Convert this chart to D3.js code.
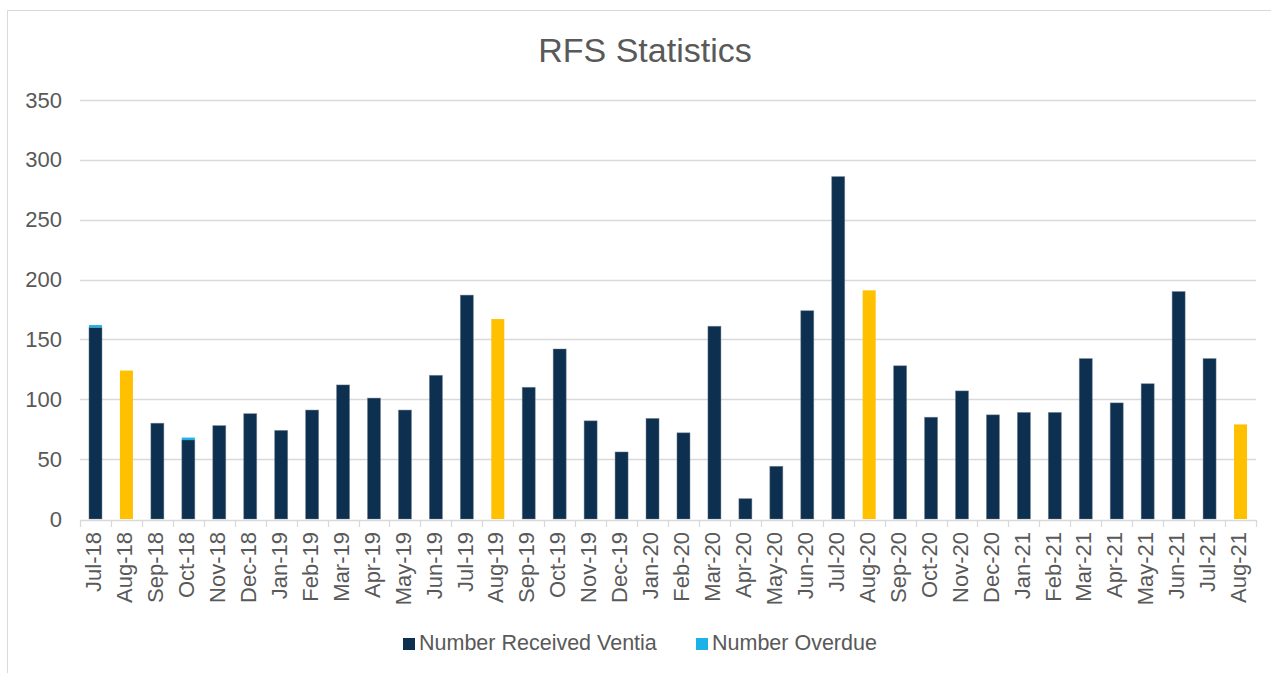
<!DOCTYPE html>
<html>
<head>
<meta charset="utf-8">
<script src="https://cdn.jsdelivr.net/npm/d3@7"></script>
<style>
  html, body { margin: 0; padding: 0; background: #ffffff; }
  svg { display: block; font-family: "Liberation Sans", Arial, sans-serif; }
</style>
</head>
<body>
<svg id="chart" width="1271" height="673"></svg>
<script>
// Monthly RFS counts, Jul-18 to Aug-21
const months = [
  "Jul-18","Aug-18","Sep-18","Oct-18","Nov-18","Dec-18",
  "Jan-19","Feb-19","Mar-19","Apr-19","May-19","Jun-19","Jul-19","Aug-19","Sep-19","Oct-19","Nov-19","Dec-19",
  "Jan-20","Feb-20","Mar-20","Apr-20","May-20","Jun-20","Jul-20","Aug-20","Sep-20","Oct-20","Nov-20","Dec-20",
  "Jan-21","Feb-21","Mar-21","Apr-21","May-21","Jun-21","Jul-21","Aug-21"
];
const receivedVentia = [
  160,124,80,66,78,88,
  74,91,112,101,91,120,187,167,110,142,82,56,
  84,72,161,17,44,174,286,191,128,85,107,87,
  89,89,134,97,113,190,134,79
];
const overdue = [
  2,0,0,2,0,0,
  0,0,0,0,0,0,0,0,0,0,0,0,
  0,0,0,0,0,0,0,0,0,0,0,0,
  0,0,0,0,0,0,0,0
];
// Months whose received bar is shown in the highlight colour
const highlighted = ["Aug-18","Aug-19","Aug-20","Aug-21"];
const yTicks = [0,50,100,150,200,250,300,350];
const seriesNames = ["Number Received Ventia","Number Overdue"];

const colors = {
  received: "#0e3050",
  highlight: "#ffc000",
  overdue: "#1bb1e9",
  text: "#595959",
  grid: "#d9d9d9"
};

const svg = d3.select("#chart");
const plot = { left: 80, right: 1256, top: 100, bottom: 519 };

// Chart frame (left and top edges)
svg.append("path")
  .attr("d", "M7.5,673 V10.5 H1271")
  .attr("fill", "none")
  .attr("stroke", colors.grid)
  .attr("stroke-width", 1);

const x = d3.scaleBand()
  .domain(months)
  .range([plot.left, plot.right])
  .paddingInner(0.58)
  .paddingOuter(0.29);

const xTicksScale = d3.scaleBand().domain(months).range([plot.left, plot.right]);

const y = d3.scaleLinear()
  .domain([0, 350])
  .range([plot.bottom, plot.top]);

// Title
svg.append("text")
  .attr("x", 645)
  .attr("y", 62)
  .attr("text-anchor", "middle")
  .attr("fill", colors.text)
  .attr("font-size", 34)
  .text("RFS Statistics");

// Gridlines
svg.append("g")
  .selectAll("line")
  .data(yTicks.filter(d => d > 0))
  .join("line")
  .attr("x1", plot.left)
  .attr("x2", plot.right)
  .attr("y1", d => Math.round(y(d)) + 0.5)
  .attr("y2", d => Math.round(y(d)) + 0.5)
  .attr("stroke", colors.grid)
  .attr("stroke-width", 1.3);

// Y axis labels
const yAxis = d3.axisLeft(y).tickValues(yTicks).tickSize(0).tickPadding(18);
svg.append("g")
  .attr("transform", `translate(${plot.left},0)`)
  .call(yAxis)
  .call(g => g.select(".domain").remove())
  .call(g => g.selectAll("text")
    .attr("fill", colors.text)
    .attr("font-size", 22)
    .attr("font-family", "'Liberation Sans', Arial, sans-serif"));

// Stacked bars
const stackData = months.map((m, i) => ({ month: m, received: receivedVentia[i], overdue: overdue[i] }));
const stacked = d3.stack().keys(["received", "overdue"])(stackData);

const barGroups = svg.append("g")
  .selectAll("g")
  .data(stacked)
  .join("g");

barGroups.selectAll("rect")
  .data(s => s.map(d => ({ key: s.key, d })))
  .join("rect")
  .filter(o => o.d[1] - o.d[0] > 0)
  .attr("x", o => x(o.d.data.month))
  .attr("width", x.bandwidth())
  .attr("y", o => y(o.d[1]))
  .attr("height", o => y(o.d[0]) - y(o.d[1]))
  .attr("fill", o => o.key === "overdue" ? colors.overdue
    : (highlighted.includes(o.d.data.month) ? colors.highlight : colors.received))
  .attr("stroke", o => o.key === "overdue" ? "none"
    : (highlighted.includes(o.d.data.month) ? "none" : "rgba(110,125,140,0.55)"))
  .attr("stroke-width", 0.8);

// X axis line and ticks
const xAxisG = svg.append("g").attr("transform", `translate(0,${plot.bottom + 1})`);
xAxisG.append("line")
  .attr("x1", plot.left).attr("x2", plot.right)
  .attr("y1", 0.5).attr("y2", 0.5)
  .attr("stroke", colors.grid).attr("stroke-width", 1.3);
const boundaries = months.map(m => xTicksScale(m)).concat([plot.right]);
xAxisG.selectAll("line.tick")
  .data(boundaries)
  .join("line")
  .attr("class", "tick")
  .attr("x1", d => Math.round(d) + 0.5).attr("x2", d => Math.round(d) + 0.5)
  .attr("y1", 0).attr("y2", 7)
  .attr("stroke", colors.grid).attr("stroke-width", 1.3);

// X labels, rotated
xAxisG.selectAll("text")
  .data(months)
  .join("text")
  .attr("transform", d => `translate(${xTicksScale(d) + xTicksScale.bandwidth() / 2 - 2},12) rotate(-90)`)
  .attr("text-anchor", "end")
  .attr("dy", "0.35em")
  .attr("fill", colors.text)
  .attr("font-size", 22)
  .text(d => d);

// Legend
const legend = svg.append("g").attr("transform", "translate(403,650)");
const legendItems = [
  { name: seriesNames[0], color: colors.received, x: 0 },
  { name: seriesNames[1], color: colors.overdue, x: 293 }
];
const li = legend.selectAll("g").data(legendItems).join("g")
  .attr("transform", d => `translate(${d.x},0)`);
li.append("rect")
  .attr("x", 0).attr("y", -12)
  .attr("width", 12).attr("height", 12)
  .attr("fill", d => d.color);
li.append("text")
  .attr("x", 16).attr("y", 0)
  .attr("fill", colors.text)
  .attr("font-size", 21.5)
  .text(d => d.name);
</script>
</body>
</html>
